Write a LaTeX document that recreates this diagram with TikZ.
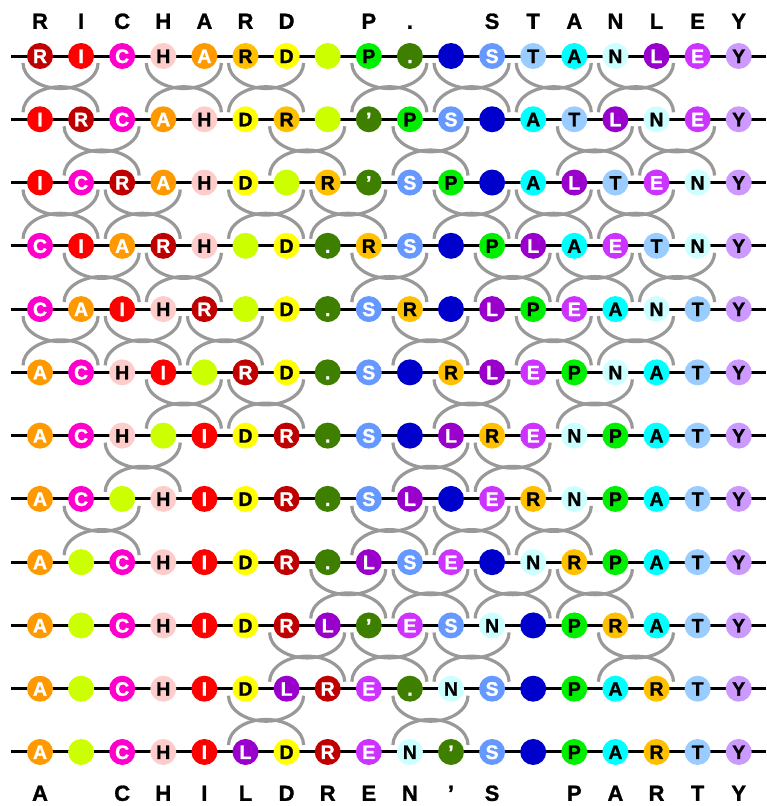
\documentclass[tikz,border=0pt]{standalone}
\usepackage{fontspec}
\setmainfont{Liberation Sans}[BoldFeatures={FakeBold=1.2}]
\usepackage{xcolor}
\usetikzlibrary{calc}

\definecolor{cRa}{HTML}{C00000}
\definecolor{cI}{HTML}{FF0000}
\definecolor{cC}{HTML}{FF00CC}
\definecolor{cH}{HTML}{FFCCCC}
\definecolor{cAa}{HTML}{FF9900}
\definecolor{cRb}{HTML}{FFC000}
\definecolor{cD}{HTML}{FFFF00}
\definecolor{cGa}{HTML}{CCFF00}
\definecolor{cP}{HTML}{00EE00}
\definecolor{cDt}{HTML}{3F7F00}
\definecolor{cGb}{HTML}{0000CC}
\definecolor{cS}{HTML}{6699FF}
\definecolor{cT}{HTML}{99CCFF}
\definecolor{cAb}{HTML}{00FFFF}
\definecolor{cN}{HTML}{CCFFFF}
\definecolor{cL}{HTML}{9900CC}
\definecolor{cE}{HTML}{CC33FF}
\definecolor{cY}{HTML}{CC99FF}

\tikzset{
  tok/.style={circle, minimum size=26pt, inner sep=0pt, text height=14pt, text depth=0pt, font=\bfseries\fontsize{19.5}{19.5}\selectfont},
  lt/.style={tok, text=white},
  dk/.style={tok, text=black},
  tRa/.style={lt, fill=cRa}, tI/.style={lt, fill=cI}, tC/.style={lt, fill=cC},
  tH/.style={dk, fill=cH}, tAa/.style={lt, fill=cAa}, tRb/.style={dk, fill=cRb},
  tD/.style={dk, fill=cD}, tGa/.style={dk, fill=cGa}, tP/.style={dk, fill=cP},
  tDt/.style={lt, fill=cDt}, tGb/.style={lt, fill=cGb}, tS/.style={lt, fill=cS},
  tT/.style={dk, fill=cT}, tAb/.style={dk, fill=cAb}, tN/.style={dk, fill=cN},
  tL/.style={lt, fill=cL}, tE/.style={lt, fill=cE}, tY/.style={dk, fill=cY},
}

\begin{document}
\begin{tikzpicture}[x=1pt, y=1pt,
  wire/.style={draw=black, line width=3pt},
  swap/.style={draw=black!40, line width=3.2pt},
  title/.style={text height=15.7pt, text depth=0pt, inner sep=0pt, font=\bfseries\fontsize{22}{22}\selectfont}]
\useasboundingbox (0,0) rectangle (767,-806);

\foreach \r in {0,...,11} {
  \coordinate (wl\r) at (11,-56-63.27*\r);
  \coordinate (wr\r) at (766,-56-63.27*\r);
  \draw[wire] (wl\r) -- (wr\r);
}

\foreach \row [count=\r from 0] in {
  {Ra/R,I/I,C/C,H/H,Aa/A,Rb/R,D/D,Ga/{},P/P,Dt/.,Gb/{},S/S,T/T,Ab/A,N/N,L/L,E/E,Y/Y},
  {I/I,Ra/R,C/C,Aa/A,H/H,D/D,Rb/R,Ga/{},Dt/’,P/P,S/S,Gb/{},Ab/A,T/T,L/L,N/N,E/E,Y/Y},
  {I/I,C/C,Ra/R,Aa/A,H/H,D/D,Ga/{},Rb/R,Dt/’,S/S,P/P,Gb/{},Ab/A,L/L,T/T,E/E,N/N,Y/Y},
  {C/C,I/I,Aa/A,Ra/R,H/H,Ga/{},D/D,Dt/.,Rb/R,S/S,Gb/{},P/P,L/L,Ab/A,E/E,T/T,N/N,Y/Y},
  {C/C,Aa/A,I/I,H/H,Ra/R,Ga/{},D/D,Dt/.,S/S,Rb/R,Gb/{},L/L,P/P,E/E,Ab/A,N/N,T/T,Y/Y},
  {Aa/A,C/C,H/H,I/I,Ga/{},Ra/R,D/D,Dt/.,S/S,Gb/{},Rb/R,L/L,E/E,P/P,N/N,Ab/A,T/T,Y/Y},
  {Aa/A,C/C,H/H,Ga/{},I/I,D/D,Ra/R,Dt/.,S/S,Gb/{},L/L,Rb/R,E/E,N/N,P/P,Ab/A,T/T,Y/Y},
  {Aa/A,C/C,Ga/{},H/H,I/I,D/D,Ra/R,Dt/.,S/S,L/L,Gb/{},E/E,Rb/R,N/N,P/P,Ab/A,T/T,Y/Y},
  {Aa/A,Ga/{},C/C,H/H,I/I,D/D,Ra/R,Dt/.,L/L,S/S,E/E,Gb/{},N/N,Rb/R,P/P,Ab/A,T/T,Y/Y},
  {Aa/A,Ga/{},C/C,H/H,I/I,D/D,Ra/R,L/L,Dt/’,E/E,S/S,N/N,Gb/{},P/P,Rb/R,Ab/A,T/T,Y/Y},
  {Aa/A,Ga/{},C/C,H/H,I/I,D/D,L/L,Ra/R,E/E,Dt/.,N/N,S/S,Gb/{},P/P,Ab/A,Rb/R,T/T,Y/Y},
  {Aa/A,Ga/{},C/C,H/H,I/I,L/L,D/D,Ra/R,E/E,N/N,Dt/’,S/S,Gb/{},P/P,Ab/A,Rb/R,T/T,Y/Y}} {
  \foreach \t/\l [count=\i from 0] in \row
    \node[t\t] (n\r-\i) at (40+41.1*\i,-56-63.27*\r) {\l};
}

\foreach \sw [count=\r from 0] in {
  {0,3,5,8,10,12,14}, {1,6,9,13,15}, {0,2,5,7,10,12,14}, {1,3,8,11,13,15},
  {0,2,4,9,12,14}, {3,5,10,13}, {2,9,11}, {1,8,10,12},
  {7,9,11,13}, {6,8,10,14}, {5,9}} {
  \pgfmathtruncatemacro\s{\r+1}
  \foreach \i in \sw {
    \draw[swap] ($(n\r-\i)+(-17,-7)$) arc[start angle=180, end angle=360, x radius=37.55pt, y radius=25.5pt];
    \draw[swap] ($(n\s-\i)+(-17,7)$) arc[start angle=180, end angle=0, x radius=37.55pt, y radius=25.5pt];
  }
}

\foreach \i/\l in {0/R,1/I,2/C,3/H,4/A,5/R,6/D,8/P,9/.,11/S,12/T,13/A,14/N,15/L,16/E,17/Y}
  \node[title] (top\i) at (40+41.1*\i,-21) {\l};
\foreach \i/\l in {0/A,2/C,3/H,4/I,5/L,6/D,7/R,8/E,9/N,10/’,11/S,13/P,14/A,15/R,16/T,17/Y}
  \node[title] (bot\i) at (40+41.1*\i,-793) {\l};
\end{tikzpicture}
\end{document}
